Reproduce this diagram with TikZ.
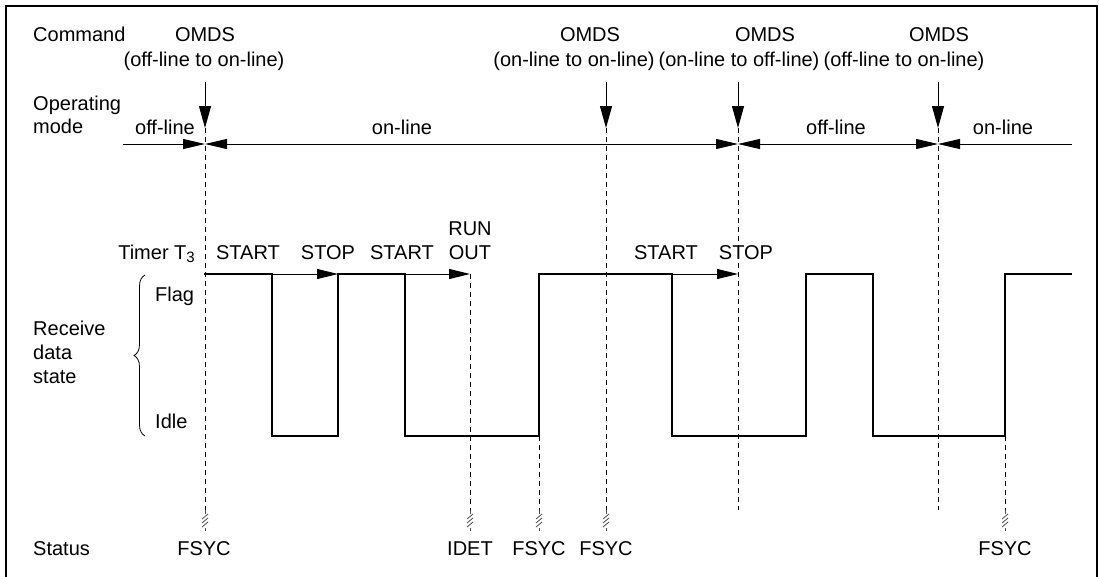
\documentclass[tikz,border=0pt]{standalone}
\usepackage{fontspec}
\setmainfont{Liberation Sans}
\usetikzlibrary{arrows.meta,decorations.pathreplacing}
\begin{document}
\begin{tikzpicture}[x=1pt,y=-1pt,
  txt/.style={inner sep=0pt, anchor=base, font=\fontsize{20}{24}\selectfont},
  txtw/.style={txt, anchor=base west},
  frame/.style={line width=2pt},
  wave/.style={line width=2pt, line join=miter},
  guide/.style={line width=0.8pt, dash pattern=on 5pt off 4pt},
  cmdarrow/.style={line width=1pt, -{Triangle[length=22pt,width=12pt]}},
  modeline/.style={line width=1pt},
  modetip/.style={-{Triangle[length=22pt,width=10pt]}},
  modetips/.style={{Triangle[length=22pt,width=10pt]}-{Triangle[length=22pt,width=10pt]}},
  timerarrow/.style={line width=1pt, -{Triangle[length=21pt,width=10pt]}},
  brk/.style={line width=0.8pt, black!70}
]
\useasboundingbox (0,0) rectangle (1099,576);
% frame
\coordinate (fbl) at (6,580);
\coordinate (ftl) at (6,6);
\coordinate (ftr) at (1097,6);
\coordinate (fbr) at (1097,580);
\draw[frame] (fbl) -- (ftl) -- (ftr) -- (fbr);

% row labels
\node[txtw] (command) at (33,41) {Command};
\node[txtw] (operating) at (33,110) {Operating};
\node[txtw] (mode) at (33,133) {mode};
\node[txtw] (receive) at (33,335) {Receive};
\node[txtw] (data) at (33,359) {data};
\node[txtw] (state) at (33,383) {state};
\node[txtw] (status) at (33,555) {Status};

% commands
\node[txt] (o1) at (205,41) {OMDS};
\node[txt] (o1b) at (204,66) {(off-line to on-line)};
\node[txt] (o2) at (590,41) {OMDS};
\node[txt] (o2b) at (574,66) {(on-line to on-line)};
\node[txt] (o3) at (765,41) {OMDS};
\node[txt] (o3b) at (739,66) {(on-line to off-line)};
\node[txt] (o4) at (939,41) {OMDS};
\node[txt] (o4b) at (904,66) {(off-line to on-line)};

% vertical event positions
\coordinate (a1) at (205,82);  \coordinate (t1) at (205,128); \coordinate (m1) at (205,144);
\coordinate (a2) at (606,82);  \coordinate (t2) at (606,128);
\coordinate (a3) at (738,82);  \coordinate (t3) at (738,128); \coordinate (m3) at (738,144);
\coordinate (a4) at (938,82);  \coordinate (t4) at (938,128); \coordinate (m4) at (938,144);
\coordinate (m0) at (123,144);
\coordinate (m5) at (1072,144);

\draw[cmdarrow] (a1) -- (t1);
\draw[cmdarrow] (a2) -- (t2);
\draw[cmdarrow] (a3) -- (t3);
\draw[cmdarrow] (a4) -- (t4);

% operating mode line
\draw[modeline, modetip] (m0) -- (m1);
\draw[modeline, modetips] (m1) -- (m3);
\draw[modeline, modetips] (m3) -- (m4);
\draw[modeline, modetip] (m5) -- (m4);
\node[txt] (off1) at (165,134) {off-line};
\node[txt] (on1) at (402,134) {on-line};
\node[txt] (off2) at (836,134) {off-line};
\node[txt] (on2) at (1003,134) {on-line};

% timer labels
\node[txt, anchor=base east] (timer) at (195,259) {Timer T\raisebox{-0.3ex}{\fontsize{15}{18}\selectfont 3}};
\node[txt] (start1) at (248,259) {START};
\node[txt] (stop1) at (328,259) {STOP};
\node[txt] (start2) at (402,259) {START};
\node[txt] (run) at (470,235) {RUN};
\node[txt] (out) at (470,259) {OUT};
\node[txt] (start3) at (666,259) {START};
\node[txt] (stop2) at (746,259) {STOP};

% state labels
\node[txtw] (flag) at (155,301) {Flag};
\node[txtw] (idle) at (155,428) {Idle};
\coordinate (br1) at (145,436);
\coordinate (br2) at (145,275);
\draw[line width=0.8pt, decorate, decoration={brace, amplitude=11pt}] (br1) -- (br2);

% waveform
\coordinate (w0) at (204,274);
\coordinate (w1) at (272,274); \coordinate (w1l) at (272,436);
\coordinate (w2l) at (338,436); \coordinate (w2) at (338,274);
\coordinate (w3) at (405,274); \coordinate (w3l) at (405,436);
\coordinate (w4l) at (539,436); \coordinate (w4) at (539,274);
\coordinate (w5) at (672,274); \coordinate (w5l) at (672,436);
\coordinate (w6l) at (806,436); \coordinate (w6) at (806,274);
\coordinate (w7) at (873,274); \coordinate (w7l) at (873,436);
\coordinate (w8l) at (1005,436); \coordinate (w8) at (1005,274);
\coordinate (w9) at (1072,274);
\draw[wave] (w0) -- (w1) -- (w1l) -- (w2l) -- (w2) -- (w3) -- (w3l) -- (w4l) -- (w4) -- (w5) -- (w5l) -- (w6l) -- (w6) -- (w7) -- (w7l) -- (w8l) -- (w8) -- (w9);

% timer arrows
\coordinate (ro) at (470,274);
\coordinate (sp2) at (738,274);
\draw[timerarrow] (w1) -- (w2);
\draw[timerarrow] (w3) -- (ro);
\draw[timerarrow] (w5) -- (sp2);

% guide lines
\coordinate (e1) at (205,510);
\coordinate (e2) at (606,510);
\coordinate (e3) at (738,510);
\coordinate (e4) at (938,510);
\coordinate (e5) at (470,510);
\coordinate (e6) at (539,510);
\coordinate (e7) at (1005,510);
\draw[guide] (t1) -- (e1);
\draw[guide] (t2) -- (e2);
\draw[guide] (t3) -- (e3);
\draw[guide] (t4) -- (e4);
\draw[guide] (ro) -- (e5);
\draw[guide] (w4l) -- (e6);
\draw[guide] (w8l) -- (e7);

% break marks
\foreach \bx in {205,470,539,606,1005}{
  \draw[brk] (\bx,510) -- (\bx,514);
  \draw[brk] (\bx-3,519) -- (\bx+3,514);
  \draw[brk] (\bx-3,523) -- (\bx+3,518);
  \draw[brk] (\bx-3,527) -- (\bx+3,522);
  \draw[brk] (\bx,528) -- (\bx,531);
}

% status labels
\node[txt] (fs1) at (204,555) {FSYC};
\node[txt] (idet) at (470,555) {IDET};
\node[txt] (fs2) at (539,555) {FSYC};
\node[txt] (fs3) at (606,555) {FSYC};
\node[txt] (fs4) at (1005,555) {FSYC};
\end{tikzpicture}
\end{document}
